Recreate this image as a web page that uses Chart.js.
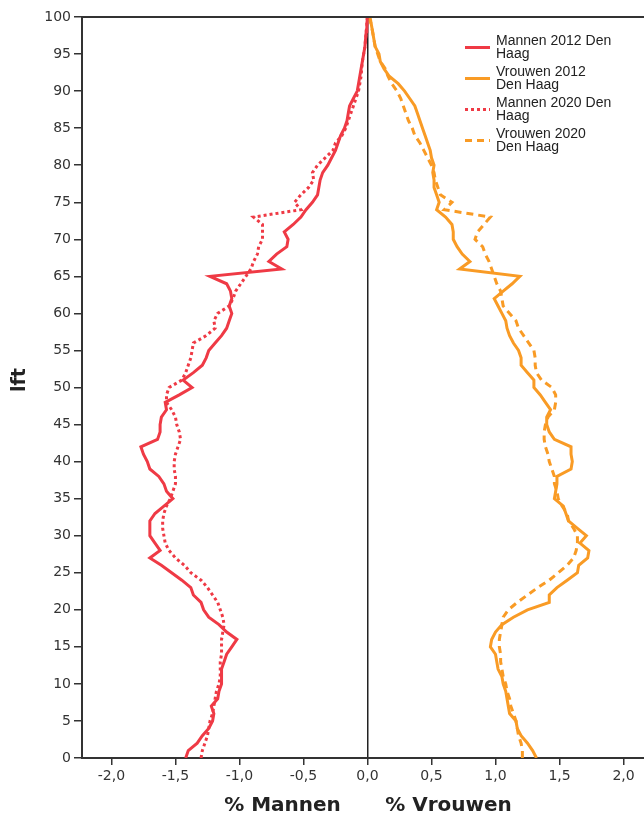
<!DOCTYPE html>
<html>
<head>
<meta charset="utf-8">
<script src="https://cdn.jsdelivr.net/npm/chart.js@4"></script>
<style>
  html, body { margin: 0; padding: 0; background: #fff; }
</style>
</head>
<body>
<canvas id="pyramid" width="644" height="818"></canvas>
<script>
// leeftijd 0..100, waarden in % van de bevolking
const ages = Array.from({ length: 101 }, (_, i) => i);

const mannen2012 = [
  -1.42, -1.40, -1.33, -1.29, -1.24, -1.21, -1.20, -1.22, -1.17, -1.16,
  -1.14, -1.14, -1.14, -1.12, -1.10, -1.06, -1.02, -1.10, -1.16, -1.24,
  -1.28, -1.30, -1.36, -1.38, -1.45, -1.53, -1.61, -1.70, -1.62, -1.66,
  -1.70, -1.70, -1.70, -1.66, -1.59, -1.52, -1.57, -1.59, -1.63, -1.70,
  -1.72, -1.75, -1.77, -1.64, -1.62, -1.62, -1.61, -1.57, -1.58, -1.47,
  -1.37, -1.44, -1.36, -1.29, -1.26, -1.24, -1.19, -1.14, -1.10, -1.08,
  -1.06, -1.08, -1.06, -1.07, -1.10, -1.23, -0.67, -0.77, -0.71, -0.63,
  -0.62, -0.65, -0.58, -0.52, -0.48, -0.43, -0.39, -0.38, -0.37, -0.35,
  -0.31, -0.28, -0.25, -0.23, -0.21, -0.18, -0.16, -0.15, -0.14, -0.11,
  -0.08, -0.07, -0.06, -0.05, -0.04, -0.03, -0.02, -0.015, -0.01, -0.005,
  0
];

const vrouwen2012 = [
  1.32, 1.29, 1.25, 1.20, 1.17, 1.16, 1.11, 1.10, 1.09, 1.08,
  1.06, 1.05, 1.02, 1.01, 1.00, 0.96, 0.97, 1.00, 1.05, 1.14,
  1.25, 1.42, 1.42, 1.48, 1.56, 1.64, 1.65, 1.72, 1.73, 1.66,
  1.71, 1.64, 1.57, 1.55, 1.53, 1.46, 1.47, 1.48, 1.48, 1.59,
  1.60, 1.59, 1.59, 1.46, 1.42, 1.40, 1.40, 1.43, 1.39, 1.35,
  1.30, 1.30, 1.25, 1.20, 1.20, 1.18, 1.14, 1.11, 1.09, 1.08,
  1.05, 1.02, 0.99, 1.06, 1.13, 1.19, 0.72, 0.80, 0.74, 0.70,
  0.67, 0.67, 0.66, 0.61, 0.54, 0.56, 0.54, 0.52, 0.52, 0.51,
  0.52, 0.50, 0.49, 0.47, 0.45, 0.43, 0.41, 0.39, 0.37, 0.33,
  0.29, 0.24, 0.17, 0.13, 0.10, 0.09, 0.06, 0.05, 0.04, 0.03,
  0.01
];

const mannen2020 = [
  -1.30, -1.29, -1.27, -1.25, -1.24, -1.23, -1.21, -1.20, -1.19, -1.18,
  -1.16, -1.15, -1.15, -1.15, -1.14, -1.14, -1.14, -1.13, -1.12, -1.13,
  -1.15, -1.17, -1.21, -1.25, -1.30, -1.38, -1.43, -1.50, -1.55, -1.58,
  -1.59, -1.60, -1.60, -1.59, -1.57, -1.54, -1.52, -1.50, -1.50, -1.51,
  -1.51, -1.50, -1.48, -1.46, -1.47, -1.49, -1.50, -1.53, -1.57, -1.57,
  -1.55, -1.45, -1.42, -1.40, -1.38, -1.37, -1.36, -1.26, -1.19, -1.20,
  -1.17, -1.08, -1.05, -1.03, -0.99, -0.95, -0.91, -0.89, -0.86, -0.85,
  -0.82, -0.82, -0.82, -0.89, -0.52, -0.57, -0.52, -0.46, -0.42, -0.43,
  -0.39, -0.33, -0.27, -0.25, -0.20, -0.17, -0.15, -0.13, -0.11, -0.09,
  -0.07, -0.06, -0.05, -0.045, -0.04, -0.03, -0.02, -0.015, -0.01, -0.005,
  -0.002
];

const vrouwen2020 = [
  1.21, 1.21, 1.20, 1.18, 1.17, 1.16, 1.14, 1.12, 1.11, 1.09,
  1.08, 1.06, 1.05, 1.04, 1.04, 1.03, 1.03, 1.04, 1.05, 1.06,
  1.10, 1.17, 1.25, 1.33, 1.42, 1.49, 1.56, 1.61, 1.63, 1.64,
  1.64, 1.61, 1.57, 1.56, 1.52, 1.49, 1.48, 1.46, 1.46, 1.44,
  1.42, 1.41, 1.39, 1.38, 1.38, 1.39, 1.41, 1.46, 1.47, 1.47,
  1.44, 1.36, 1.32, 1.31, 1.31, 1.30, 1.26, 1.22, 1.18, 1.16,
  1.11, 1.06, 1.05, 1.04, 1.01, 0.99, 0.97, 0.95, 0.92, 0.90,
  0.84, 0.86, 0.91, 0.96, 0.60, 0.66, 0.57, 0.55, 0.53, 0.52,
  0.50, 0.47, 0.44, 0.41, 0.37, 0.35, 0.32, 0.30, 0.28, 0.26,
  0.23, 0.19, 0.16, 0.14, 0.10, 0.08, 0.06, 0.05, 0.04, 0.03,
  0.02
];

const xTicks = [-2.0, -1.5, -1.0, -0.5, 0.0, 0.5, 1.0, 1.5, 2.0];
const seriesLabels = [
  ['Mannen 2012 Den', 'Haag'],
  ['Vrouwen 2012', 'Den Haag'],
  ['Mannen 2020 Den', 'Haag'],
  ['Vrouwen 2020', 'Den Haag']
];
const axisTitleLeft = '% Mannen';
const axisTitleRight = '% Vrouwen';
const yTitle = 'lft';

const RED = '#ef3a45';
const ORANGE = '#f99b25';

function toPoints(values) {
  return values.map((v, i) => ({ x: v, y: ages[i] }));
}

const seriesStyles = [
  { color: RED, dash: [] },
  { color: ORANGE, dash: [] },
  { color: RED, dash: [3, 3] },
  { color: ORANGE, dash: [7, 5] }
];
const seriesValues = [mannen2012, vrouwen2012, mannen2020, vrouwen2020];

const extras = {
  id: 'extras',
  afterDraw(chart) {
    const { ctx, chartArea } = chart;
    const xs = chart.scales.x;
    ctx.save();

    // bovenrand
    ctx.strokeStyle = '#333';
    ctx.lineWidth = 2;
    ctx.beginPath();
    ctx.moveTo(chartArea.left - 1, chartArea.top);
    ctx.lineTo(chartArea.right, chartArea.top);
    ctx.stroke();

    // astitels
    const zero = xs.getPixelForValue(0);
    ctx.fillStyle = '#222';
    ctx.font = 'bold 20px "DejaVu Sans"';
    ctx.textAlign = 'center';
    ctx.textBaseline = 'middle';
    ctx.fillText(axisTitleLeft, zero - 85, 806);
    ctx.fillText(axisTitleRight, zero + 81, 806);

    ctx.save();
    ctx.translate(20, 380);
    ctx.rotate(-Math.PI / 2);
    ctx.font = 'bold 19px "DejaVu Sans"';
    ctx.fillText(yTitle, 0, 0);
    ctx.restore();

    // legenda
    ctx.font = '14px "Liberation Sans"';
    ctx.textAlign = 'left';
    seriesLabels.forEach((lines, i) => {
      const y0 = 41 + i * 31;
      const st = seriesStyles[i];
      ctx.strokeStyle = st.color;
      ctx.lineWidth = 3;
      ctx.setLineDash(st.dash);
      ctx.beginPath();
      ctx.moveTo(465, y0 + 6.5);
      ctx.lineTo(490, y0 + 6.5);
      ctx.stroke();
      ctx.setLineDash([]);
      ctx.fillStyle = '#222';
      lines.forEach((t, j) => ctx.fillText(t, 496, y0 + j * 13.5));
    });
    ctx.restore();
  }
};

new Chart(document.getElementById('pyramid'), {
  type: 'scatter',
  data: {
    datasets: seriesValues.map((vals, i) => ({
      label: seriesLabels[i].join(' '),
      data: toPoints(vals),
      showLine: true,
      borderColor: seriesStyles[i].color,
      backgroundColor: seriesStyles[i].color,
      borderDash: seriesStyles[i].dash,
      borderWidth: 3,
      pointRadius: 0,
      tension: 0
    }))
  },
  options: {
    responsive: false,
    animation: false,
    devicePixelRatio: 1,
    layout: { padding: { top: 17, left: 0, right: 0, bottom: 0 } },
    plugins: {
      legend: { display: false },
      tooltip: { enabled: false }
    },
    scales: {
      x: {
        type: 'linear',
        min: -2.23,
        max: 2.16,
        afterBuildTicks(scale) {
          scale.ticks = xTicks.map(v => ({ value: v }));
        },
        afterFit(scale) { scale.height = 60; },
        ticks: {
          autoSkip: false,
          maxRotation: 0,
          padding: 3,
          color: '#333',
          font: { family: 'DejaVu Sans', size: 14 },
          callback: v => Number(v).toFixed(1).replace('.', ',')
        },
        grid: {
          drawOnChartArea: true,
          color: c => (c.tick && c.tick.value === 0 ? '#222' : 'rgba(0,0,0,0)'),
          lineWidth: 1.5,
          tickColor: '#333',
          tickLength: 7
        },
        border: { color: '#333', width: 2 }
      },
      y: {
        type: 'linear',
        min: 0,
        max: 100,
        afterFit(scale) { scale.width = 82; },
        ticks: {
          stepSize: 5,
          padding: 3,
          color: '#333',
          font: { family: 'DejaVu Sans', size: 14 }
        },
        grid: {
          drawOnChartArea: false,
          tickColor: '#333',
          tickLength: 8,
          lineWidth: 1.5
        },
        border: { color: '#333', width: 2 }
      }
    }
  },
  plugins: [extras]
});
</script>
</body>
</html>
